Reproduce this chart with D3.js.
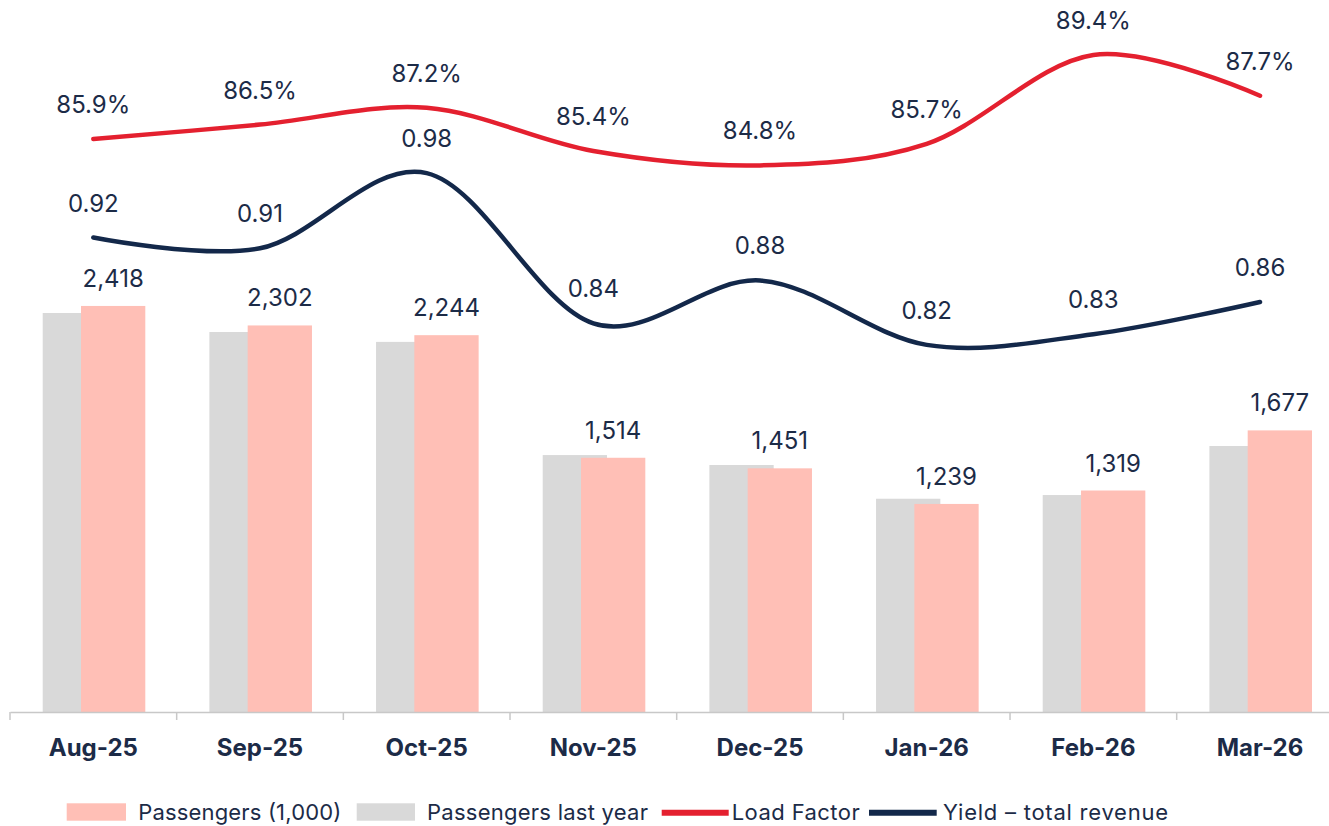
<!DOCTYPE html>
<html>
<head>
<meta charset="utf-8">
<script src="https://cdn.jsdelivr.net/npm/d3@7"></script>
<style>
  html, body { margin: 0; padding: 0; background: #ffffff; }
  svg { display: block; font-family: Inter, "Noto Sans", sans-serif; }
</style>
</head>
<body>
<svg id="chart" width="1329" height="826"></svg>
<script>
const categories = ["Aug-25", "Sep-25", "Oct-25", "Nov-25", "Dec-25", "Jan-26", "Feb-26", "Mar-26"];
const passengers = [2418, 2302, 2244, 1514, 1451, 1239, 1319, 1677];
const passengersLastYear = [2376, 2263, 2204, 1530, 1471, 1270, 1292, 1584];
const loadFactor = [85.9, 86.5, 87.2, 85.4, 84.8, 85.7, 89.4, 87.7];
const yieldTotal = [0.92, 0.91, 0.98, 0.84, 0.88, 0.82, 0.83, 0.86];
const passengerLabels = ["2,418", "2,302", "2,244", "1,514", "1,451", "1,239", "1,319", "1,677"];
const loadFactorLabels = ["85.9%", "86.5%", "87.2%", "85.4%", "84.8%", "85.7%", "89.4%", "87.7%"];
const yieldLabels = ["0.92", "0.91", "0.98", "0.84", "0.88", "0.82", "0.83", "0.86"];
const legendItems = ["Passengers (1,000)", "Passengers last year", "Load Factor", "Yield \u2013 total revenue"];

const COLORS = { pax: "#ffbfb6", paxLY: "#d9d9d9", lf: "#e4202f", yld: "#13284a", text: "#1c2b47", axis: "#c8c8c8" };

const svg = d3.select("#chart");
const baseY = 712;
const x = d3.scaleBand().domain(categories).range([10, 10 + 8 * 166.67]).paddingInner(0).paddingOuter(0);
const bw = x.bandwidth();
const yBar = d3.scaleLinear().domain([0, 4240]).range([baseY, 0]);
const yLF = d3.scaleLinear().domain([62.03, 91.69]).range([baseY, 0]);
const yYld = d3.scaleLinear().domain([0.478, 1.1413]).range([baseY, 0]);

const barW = 64.3;
const greyOff = 32.7, pinkOff = 71;

// grey bars (last year)
svg.append("g").selectAll("rect").data(categories).join("rect")
  .attr("x", d => x(d) + greyOff)
  .attr("y", (d, i) => yBar(passengersLastYear[i]))
  .attr("width", barW)
  .attr("height", (d, i) => baseY - yBar(passengersLastYear[i]))
  .attr("fill", COLORS.paxLY);

// pink bars
svg.append("g").selectAll("rect").data(categories).join("rect")
  .attr("x", d => x(d) + pinkOff)
  .attr("y", (d, i) => yBar(passengers[i]))
  .attr("width", barW)
  .attr("height", (d, i) => baseY - yBar(passengers[i]))
  .attr("fill", COLORS.pax);

// bar labels
svg.append("g").selectAll("text").data(categories).join("text")
  .attr("x", d => x(d) + pinkOff + barW / 2)
  .attr("y", (d, i) => yBar(passengers[i]) - 19)
  .attr("text-anchor", "middle")
  .attr("font-size", 24)
  .attr("fill", COLORS.text)
  .text((d, i) => passengerLabels[i]);

// x axis
const axis = d3.axisBottom(x).tickSize(8).tickFormat("").tickSizeOuter(0);
const gAxis = svg.append("g").attr("transform", `translate(0,${baseY})`).call(axis);
gAxis.select(".domain").attr("stroke", COLORS.axis).attr("stroke-width", 1.5);
gAxis.selectAll(".tick").remove();
const boundaries = categories.map(c => x(c)).concat([x(categories[categories.length - 1]) + bw]);
gAxis.selectAll("line.bt").data(boundaries).join("line")
  .attr("class", "bt")
  .attr("x1", d => d).attr("x2", d => d)
  .attr("y1", 0).attr("y2", 8)
  .attr("stroke", COLORS.axis).attr("stroke-width", 1.5);
gAxis.selectAll("text.cat").data(categories).join("text")
  .attr("class", "cat")
  .attr("x", d => x(d) + bw / 2)
  .attr("y", 44)
  .attr("text-anchor", "middle")
  .attr("font-size", 24)
  .attr("font-weight", 700)
  .attr("font-family", "Inter, sans-serif")
  .attr("fill", COLORS.text)
  .text(d => d);

// lines
const cx = d => x(d) + bw / 2;
const lfLine = d3.line().x((d, i) => cx(categories[i])).y(d => yLF(d)).curve(d3.curveCardinal.tension(0));
const yldLine = d3.line().x((d, i) => cx(categories[i])).y(d => yYld(d)).curve(d3.curveCardinal.tension(0));

svg.append("path").datum(loadFactor).attr("d", lfLine)
  .attr("fill", "none").attr("stroke", COLORS.lf).attr("stroke-width", 4.5).attr("stroke-linecap", "round");
svg.append("path").datum(yieldTotal).attr("d", yldLine)
  .attr("fill", "none").attr("stroke", COLORS.yld).attr("stroke-width", 4.5).attr("stroke-linecap", "round");

svg.append("g").selectAll("text").data(categories).join("text")
  .attr("x", d => cx(d))
  .attr("y", (d, i) => yLF(loadFactor[i]) - 26)
  .attr("text-anchor", "middle").attr("font-size", 24).attr("fill", COLORS.text)
  .text((d, i) => loadFactorLabels[i]);

svg.append("g").selectAll("text").data(categories).join("text")
  .attr("x", d => cx(d))
  .attr("y", (d, i) => yYld(yieldTotal[i]) - 26)
  .attr("text-anchor", "middle").attr("font-size", 24).attr("fill", COLORS.text)
  .text((d, i) => yieldLabels[i]);

// legend
const leg = svg.append("g").attr("font-size", 22).attr("fill", COLORS.text);
const legendSpec = [
  { type: "rect", color: COLORS.pax, sx: 66.7, sw: 59.3, tx: 138.3, tw: 203 },
  { type: "rect", color: COLORS.paxLY, sx: 356.7, sw: 58.3, tx: 427, tw: 221 },
  { type: "line", color: COLORS.lf, sx: 661.7, sw: 67, tx: 731.7, tw: 128 },
  { type: "line", color: COLORS.yld, sx: 869, sw: 67.7, tx: 943, tw: 225 }
];
legendSpec.forEach((s, i) => {
  if (s.type === "rect") {
    leg.append("rect").attr("x", s.sx).attr("y", 803.3).attr("width", s.sw).attr("height", 17.4).attr("fill", s.color);
  } else {
    leg.append("line").attr("x1", s.sx).attr("x2", s.sx + s.sw).attr("y1", 812.7).attr("y2", 812.7)
      .attr("stroke", s.color).attr("stroke-width", 6);
  }
  leg.append("text").attr("x", s.tx).attr("y", 820)
    .attr("textLength", s.tw).attr("lengthAdjust", "spacing")
    .text(legendItems[i]);
});
</script>
</body>
</html>
